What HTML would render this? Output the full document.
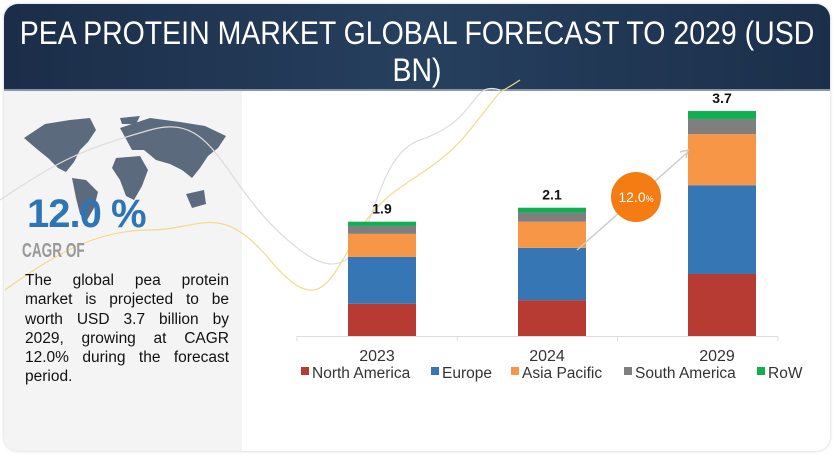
<!DOCTYPE html>
<html><head><meta charset="utf-8"><style>
body{margin:0;width:834px;height:457px;background:#fff;overflow:hidden;font-family:"Liberation Sans",sans-serif;position:relative}
#card{position:absolute;left:4px;top:4px;width:826px;height:447px;border-radius:14px;box-shadow:0 0 3px #ccc;overflow:hidden;background:#fff}
#hdr{position:absolute;left:0;top:0;width:826px;height:85px;background:linear-gradient(90deg,#1b2d48,#26405e 50%,#1b2f4a);border-bottom:2px solid #8896a8;overflow:hidden}
.tl{position:absolute;left:-150px;width:1126px;text-align:center;color:#fff;font-size:32px;white-space:nowrap;transform:scaleX(0.89);transform-origin:563px 0}
#left{position:absolute;left:0;top:87px;width:238px;height:360px;background:#f4f4f4}
#pct{position:absolute;left:27px;top:192px;font-size:40px;font-weight:bold;color:#2e75b6;letter-spacing:-1px}
#cagr{position:absolute;left:22px;top:240px;font-size:20px;color:#999;font-weight:bold;transform:scaleX(0.68);transform-origin:0 0}
#para{position:absolute;left:25px;top:271px;width:204px;font-size:15.5px;line-height:19.3px;color:#111}
#para div{text-align:justify;text-align-last:justify;white-space:nowrap}
#para div.last{text-align-last:left}
</style></head><body>
<div id="card">
<div id="hdr">
<div class="tl" style="top:11px">PEA PROTEIN MARKET GLOBAL FORECAST TO 2029 (USD</div>
<div class="tl" style="top:48px">BN)</div>
</div>
<div id="left"></div>
</div>
<svg id="map" style="position:absolute;left:0;top:0" width="834" height="457">
<g fill="#5c6a7e">
<path d="M24 138 L45 124 L70 120 L90 118 L96 130 L88 142 L80 150 L74 162 L66 172 L58 168 L48 158 L38 150 Z"/>
<path d="M72 178 L86 180 L98 192 L94 208 L86 222 L80 214 L76 198 Z"/>
<path d="M120 128 L150 118 L180 122 L205 126 L226 136 L218 148 L208 156 L200 168 L192 178 L182 170 L170 164 L156 160 L144 150 L132 150 Z"/>
<path d="M116 158 L140 156 L148 170 L142 186 L134 200 L126 196 L120 180 L112 168 Z"/>
<path d="M186 194 L204 190 L206 204 L192 208 Z"/>
<path d="M120 118 L140 116 L136 124 L122 124 Z"/>
</g>
<path d="M0 200 C60 160 80 150 150 130 S220 190 300 250 S360 160 420 140 S470 80 500 90" fill="none" stroke="#ddd" stroke-width="1.2"/>
<path d="M5 290 C60 250 100 230 150 230 S220 200 270 260 S330 280 360 230 S430 180 470 130 S490 100 520 80" fill="none" stroke="#f5d88a" stroke-width="1.2"/>
</svg>
<div id="pct">12.0 %</div>
<div id="cagr">CAGR OF</div>
<div id="para"><div>The global pea protein</div><div>market is projected to be</div><div>worth USD 3.7 billion by</div><div>2029, growing at CAGR</div><div>12.0% during the forecast</div><div class="last">period.</div></div>
<svg id="chart" style="position:absolute;left:0;top:0" width="834" height="457"></svg>
<script>
const categories=["2023","2024","2029"];
const seriesNames=["North America","Europe","Asia Pacific","South America","RoW"];
const northAmerica=[0.53,0.59,1.02];
const europe=[0.77,0.86,1.46];
const asiaPacific=[0.38,0.43,0.84];
const southAmerica=[0.13,0.15,0.25];
const row=[0.07,0.08,0.13];
const totalLabels=["1.9","2.1","3.7"];
const colors=["#b73b32","#3776b4","#f79646","#7f7f7f","#10b050"];
const svg=document.getElementById('chart');const NS="http://www.w3.org/2000/svg";
function el(t,a){const e=document.createElementNS(NS,t);for(const k in a)e.setAttribute(k,a[k]);svg.appendChild(e);return e;}
const base=336,pxPerUnit=60.8;
const y=v=>base-v*pxPerUnit;
const xCenter=i=>382+i*170;
const barW=68;
const series=[northAmerica,europe,asiaPacific,southAmerica,row];
let ax=el('line',{x1:297,y1:336.5,x2:778,y2:336.5,stroke:'#ddd','stroke-width':1});


for(let i=0;i<=3;i++){const t=el('line',{x1:297+i*160.3,y1:336,x2:297+i*160.3,y2:341,stroke:'#ddd'});

}
categories.forEach((c,i)=>{let cum=0;
series.forEach((s,j)=>{const r=el('rect',{x:xCenter(i)-barW/2,y:y(cum+s[i]),width:barW,height:s[i]*pxPerUnit,fill:colors[j]});


cum+=s[i];});
const tl=el('text',{x:xCenter(i),y:y(cum)-8,'text-anchor':'middle','font-size':14,'font-weight':'bold',fill:'#111'});tl.textContent=totalLabels[i];


const cl=el('text',{x:xCenter(i)-5,y:361,'text-anchor':'middle','font-size':16,fill:'#333'});cl.textContent=c;


});
const ar=el('path',{d:'M577 250 L688 152 M680 152 L688 150 L686 158',stroke:'#ccc','stroke-width':1.5,fill:'none'});


const c1=el('circle',{cx:636,cy:197,r:25,fill:'#f57c12'});


const bt=el('text',{x:636,y:202,'text-anchor':'middle','font-size':14,fill:'#fff'});bt.innerHTML='12.0<tspan font-size="9">%</tspan>';


const legX=[301,431,511,624,757];
seriesNames.forEach((n,j)=>{const r=el('rect',{x:legX[j],y:367,width:8,height:8,fill:colors[j]});


const t=el('text',{x:legX[j]+11,y:378,'font-size':15.5,fill:'#333'});t.textContent=n;

});
</script>
</body></html>
